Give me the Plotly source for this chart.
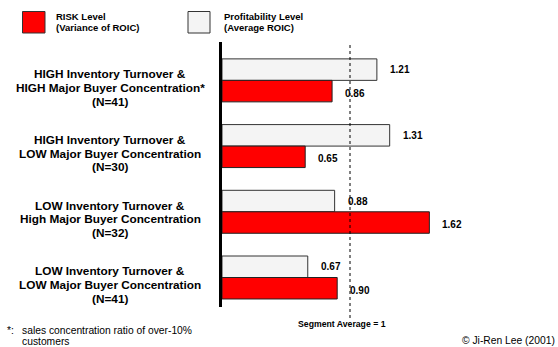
import plotly.graph_objects as go

# ---- data ----
categories = [
    ["HIGH Inventory Turnover &", "HIGH Major Buyer Concentration*", "(N=41)"],
    ["HIGH Inventory Turnover &", "LOW Major Buyer Concentration", "(N=30)"],
    ["LOW Inventory Turnover &", "High Major Buyer Concentration", "(N=32)"],
    ["LOW Inventory Turnover &", "LOW Major Buyer Concentration", "(N=41)"],
]
profitability = [1.21, 1.31, 0.88, 0.67]
risk = [0.86, 0.65, 1.62, 0.90]
series_names = [["RISK Level", "(Variance of ROIC)"], ["Profitability Level", "(Average ROIC)"]]
segment_average = 1.0
segment_label = "Segment Average = 1"
footnote_mark = "*:"
footnote_lines = ["sales concentration ratio of over-10%", "customers"]
copyright_text = "© Ji-Ren Lee (2001)"

# ---- layout geometry (pixels) ----
W, H = 558, 347
L, R, T, B = 222, 500, 42, 307
FONT = "Liberation Sans, Arial, sans-serif"
RED = "#FF0000"
WHITE = "#F4F4F4"

def px(x):
    return (x - L) / (R - L)

def py(y):
    return (B - y) / (B - T)

pos = list(range(len(categories)))
bw = 0.327

fig = go.Figure()
fig.add_trace(go.Bar(
    y=pos, x=profitability, orientation="h", width=bw, offset=-bw,
    marker=dict(color=WHITE, line=dict(color="#333333", width=1)),
    name="Profitability Level", showlegend=False,
))
fig.add_trace(go.Bar(
    y=pos, x=risk, orientation="h", width=bw, offset=0,
    marker=dict(color=RED, line=dict(color="#222222", width=1)),
    name="RISK Level", showlegend=False,
))

ann = []
line_gap = 13.7
for i, lines in enumerate(categories):
    n = len(lines)
    for k, t in enumerate(lines):
        ann.append(dict(x=px(110), xref="paper", y=i, yref="y", text="<b>%s</b>" % t,
                        showarrow=False, xanchor="center", yanchor="middle", align="center",
                        yshift=-7.5 - (k - (n - 1) / 2) * line_gap,
                        font=dict(family=FONT, size=11.8, color="black")))
    ann.append(dict(x=profitability[i], xref="x", y=i - bw / 2, yref="y",
                    text="<b>%.2f</b>" % profitability[i], showarrow=False,
                    xanchor="left", yanchor="middle", xshift=11,
                    font=dict(family=FONT, size=10, color="black")))
    ann.append(dict(x=risk[i], xref="x", y=i + bw / 2, yref="y",
                    text="<b>%.2f</b>" % risk[i], showarrow=False,
                    xanchor="left", yanchor="middle", xshift=11, yshift=-2,
                    font=dict(family=FONT, size=10, color="black")))

# legend text
for (x0, lines) in zip([54, 221.5], series_names):
    for k, t in enumerate(lines):
        ann.append(dict(x=px(x0), xref="paper", y=py(16 + 11 * k), yref="paper", text="<b>%s</b>" % t,
                        showarrow=False, xanchor="left", yanchor="middle", align="left",
                        font=dict(family=FONT, size=9.5, color="black")))
# segment average label
ann.append(dict(x=px(342), xref="paper", y=py(323.5), yref="paper", text="<b>%s</b>" % segment_label,
                showarrow=False, xanchor="center", yanchor="middle",
                font=dict(family=FONT, size=8.7, color="black")))
# footnote
ann.append(dict(x=px(5), xref="paper", y=py(330.5), yref="paper", text=footnote_mark,
                showarrow=False, xanchor="left", yanchor="middle",
                font=dict(family=FONT, size=10.3, color="black")))
for k, t in enumerate(footnote_lines):
    ann.append(dict(x=px(20), xref="paper", y=py(330.5 + 10.5 * k), yref="paper", text=t,
                    showarrow=False, xanchor="left", yanchor="middle", align="left",
                    font=dict(family=FONT, size=10.3, color="black")))
ann.append(dict(x=px(557), xref="paper", y=py(340), yref="paper", text=copyright_text,
                showarrow=False, xanchor="right", yanchor="middle",
                font=dict(family=FONT, size=10.3, color="black")))

shapes = [
    dict(type="line", xref="x", yref="paper", x0=segment_average, x1=segment_average,
         y0=py(318), y1=py(43), line=dict(color="black", width=1, dash="dot")),
    dict(type="rect", xref="paper", yref="paper", x0=px(22.5), x1=px(45), y0=py(33), y1=py(11.5),
         fillcolor=RED, line=dict(color="#333333", width=1)),
    dict(type="rect", xref="paper", yref="paper", x0=px(188), x1=px(210), y0=py(33), y1=py(11.5),
         fillcolor=WHITE, line=dict(color="#333333", width=1)),
]

fig.update_layout(
    width=W, height=H,
    margin=dict(l=L, r=W - R, t=T, b=H - B),
    paper_bgcolor="white", plot_bgcolor="white",
    barmode="overlay",
    xaxis=dict(range=[0, (R - L) / 128.0], visible=False, showgrid=False, zeroline=False),
    yaxis=dict(range=[3.449, -0.584], showgrid=False, zeroline=False, showticklabels=False,
               ticks="", showline=True, linecolor="black", linewidth=3),
    annotations=ann, shapes=shapes,
)

fig.write_html("out.html")
